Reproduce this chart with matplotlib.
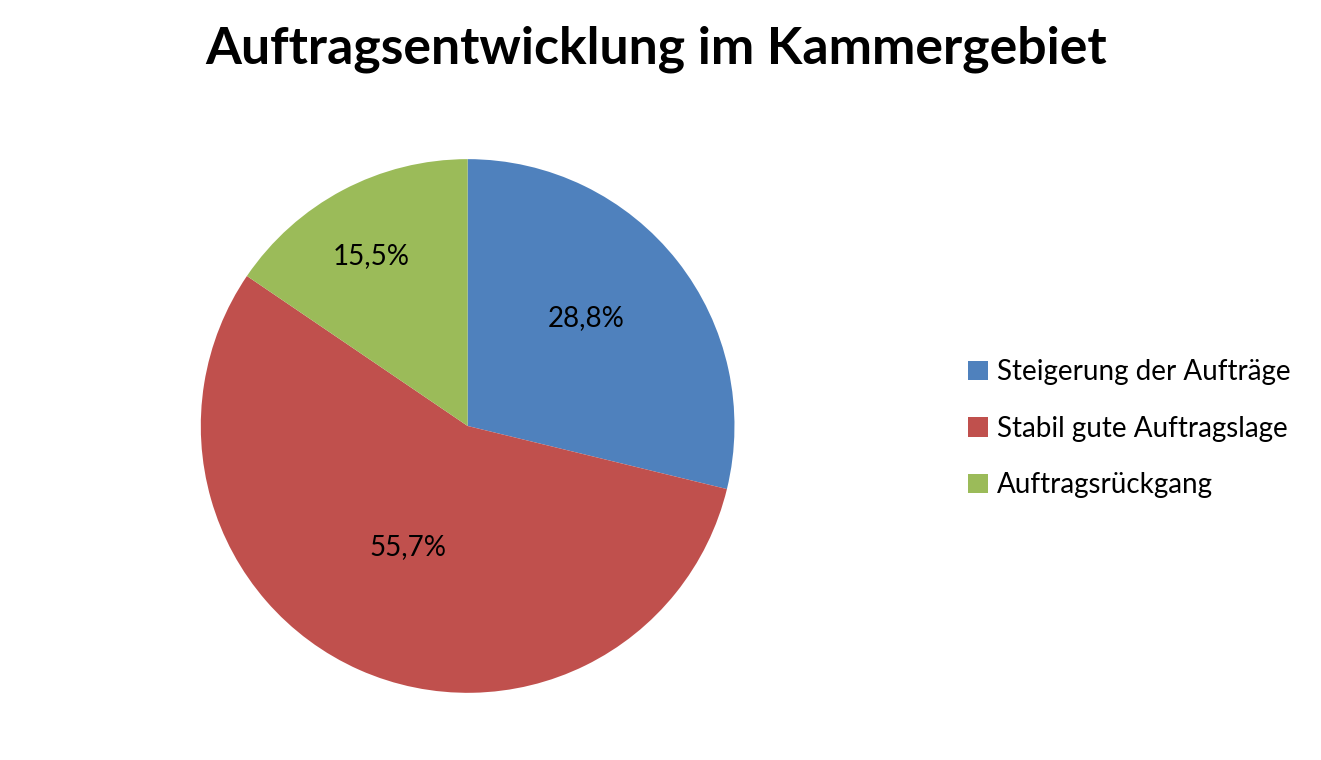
import numpy as np
import matplotlib.pyplot as plt
from matplotlib.patches import Patch

plt.rcParams['font.family'] = ['Lato', 'DejaVu Sans']

# data
labels = ['Steigerung der Aufträge', 'Stabil gute Auftragslage', 'Auftragsrückgang']
values = [28.8, 55.7, 15.5]
pct_text = ['28,8%', '55,7%', '15,5%']
colors = ['#4F81BD', '#C0504D', '#9BBB59']
# Excel puts the labels a bit unevenly: radius and angle nudge per slice
label_dist = [0.60, 0.506, 0.731]
label_turn = [4.3, -2.5, 1.6]

fig = plt.figure(figsize=(13.21, 7.6), dpi=100)
fig.patch.set_facecolor('white')

ax = fig.add_axes([0.152, 0.088, 0.404, 0.703])
wedges, _ = ax.pie(values, colors=colors, startangle=90, counterclock=False,
                   wedgeprops=dict(linewidth=0))
ax.set_aspect('equal')
ax.set_xlim(-1, 1)
ax.set_ylim(-1, 1)

for w, t, d, turn in zip(wedges, pct_text, label_dist, label_turn):
    ang = np.deg2rad((w.theta1 + w.theta2) / 2 + turn)
    ax.text(d * np.cos(ang), d * np.sin(ang), t, ha='center', va='center',
            fontsize=20, color='black')

fig.text(0.497, 0.935, 'Auftragsentwicklung im Kammergebiet', ha='center', va='center',
         fontsize=37.3, fontweight='bold')

handles = [Patch(facecolor=c, edgecolor='none') for c in colors]
fig.legend(handles, labels, loc='center left', bbox_to_anchor=(0.714, 0.436),
           frameon=False, fontsize=20, handlelength=0.7, handleheight=0.7,
           handletextpad=0.35, labelspacing=1.1)

fig.savefig('out.png', dpi=100)
